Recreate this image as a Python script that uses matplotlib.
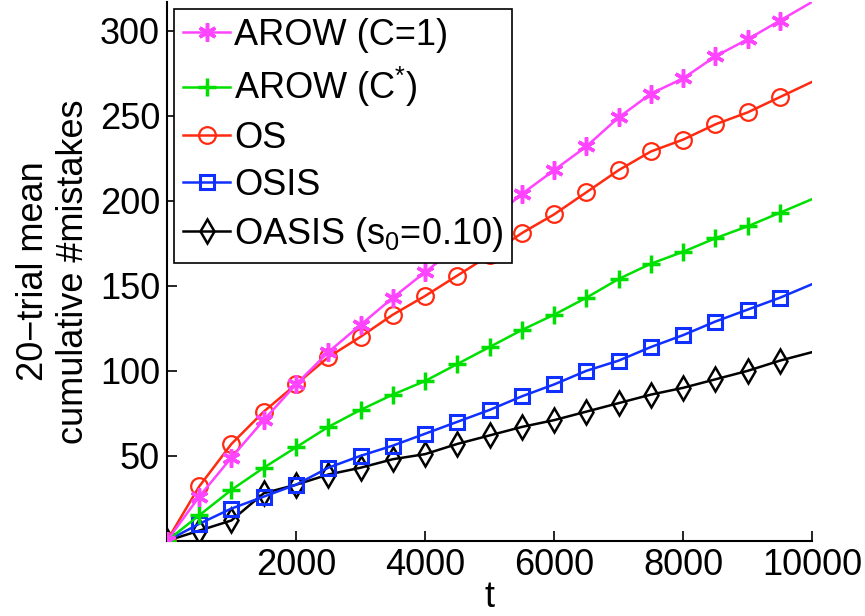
import numpy as np
from matplotlib import pyplot as plt

plt.rcParams['font.family'] = ['Liberation Sans', 'DejaVu Sans']
plt.rcParams['mathtext.fontset'] = 'custom'
plt.rcParams['mathtext.rm'] = 'Liberation Sans'

t = np.arange(0, 10001, 500)

arow_c1 = [0, 26, 49, 71, 92, 111, 127, 143, 158, 173, 188, 204, 218, 232,
           249, 263, 272, 285, 295, 306, 317]
arow_cstar = [0, 15, 30, 43, 55, 67, 77, 86, 94, 104, 114, 124, 133, 143,
              154, 163, 170, 178, 185, 193, 201]
os_ = [0, 32, 57, 76, 92, 108, 120, 133, 144, 156, 168, 181, 192, 205,
       218, 229, 236, 245, 252, 261, 270]
osis = [0, 10, 19, 26, 33, 43, 50, 56, 63, 70, 77, 85, 92, 100,
        106, 114, 121, 129, 136, 143, 151]
oasis = [0, 6, 12, 28, 33, 39, 43, 48, 51, 57, 62, 67, 71, 76,
         81, 86, 90, 95, 100, 106, 111]

labels = ['AROW (C=1)', 'AROW (C$\\mathregular{^{*}}$)', 'OS', 'OSIS',
          'OASIS (s$\\mathregular{_{0}}$=0.10)']

fig = plt.figure(figsize=(8.65, 6.16), dpi=100)
ax = fig.add_axes([0.193, 0.122, 0.746, 0.875])

mk = slice(0, 20)
lw = 1.8
ax.plot(t, oasis, color='black', marker='d', ms=12, mew=1.8, mfc='none',
        lw=lw, markevery=mk, label=labels[4], zorder=2)
ax.plot(t, osis, color='#1030ff', marker='s', ms=9.5, mew=2.2, mfc='none',
        lw=lw, markevery=mk, label=labels[3], zorder=3)
ax.plot(t, os_, color='#ff2a10', marker='o', ms=12, mew=1.6, mfc='none',
        lw=lw, markevery=mk, label=labels[2], zorder=4)
ax.plot(t, arow_cstar, color='#00e000', marker='+', ms=13, mew=2.5,
        lw=lw, markevery=mk, label=labels[1], zorder=5)
ax.plot(t, arow_c1, color='#ff44ff', marker=(6, 2, 0), ms=13, mew=2.5,
        lw=lw, markevery=mk, label=labels[0], zorder=6)

ax.set_xlim(0, 10000)
ax.set_ylim(0, 317)
ax.set_xticks([2000, 4000, 6000, 8000, 10000])
ax.set_yticks([50, 100, 150, 200, 250, 300])
ax.tick_params(direction='in', labelsize=26, length=7, width=1.2, pad=5)
ax.spines['top'].set_visible(False)
ax.spines['right'].set_visible(False)
for s in ['left', 'bottom']:
    ax.spines[s].set_linewidth(1.5)

ax.set_xlabel('t', fontsize=26, labelpad=-2)
ax.set_ylabel('20\u2212trial mean\ncumulative #mistakes', fontsize=26,
              labelpad=6)

handles, labs = ax.get_legend_handles_labels()
leg = ax.legend(handles[::-1], labs[::-1], loc='upper left', fontsize=26,
                frameon=True, fancybox=False, edgecolor='black',
                framealpha=1.0, handlelength=1.3, handletextpad=0.1,
                borderpad=0.25, labelspacing=0.33, borderaxespad=0.2)
leg.get_frame().set_linewidth(1.2)
leg.set_zorder(10)

fig.savefig('out.png', dpi=100)
